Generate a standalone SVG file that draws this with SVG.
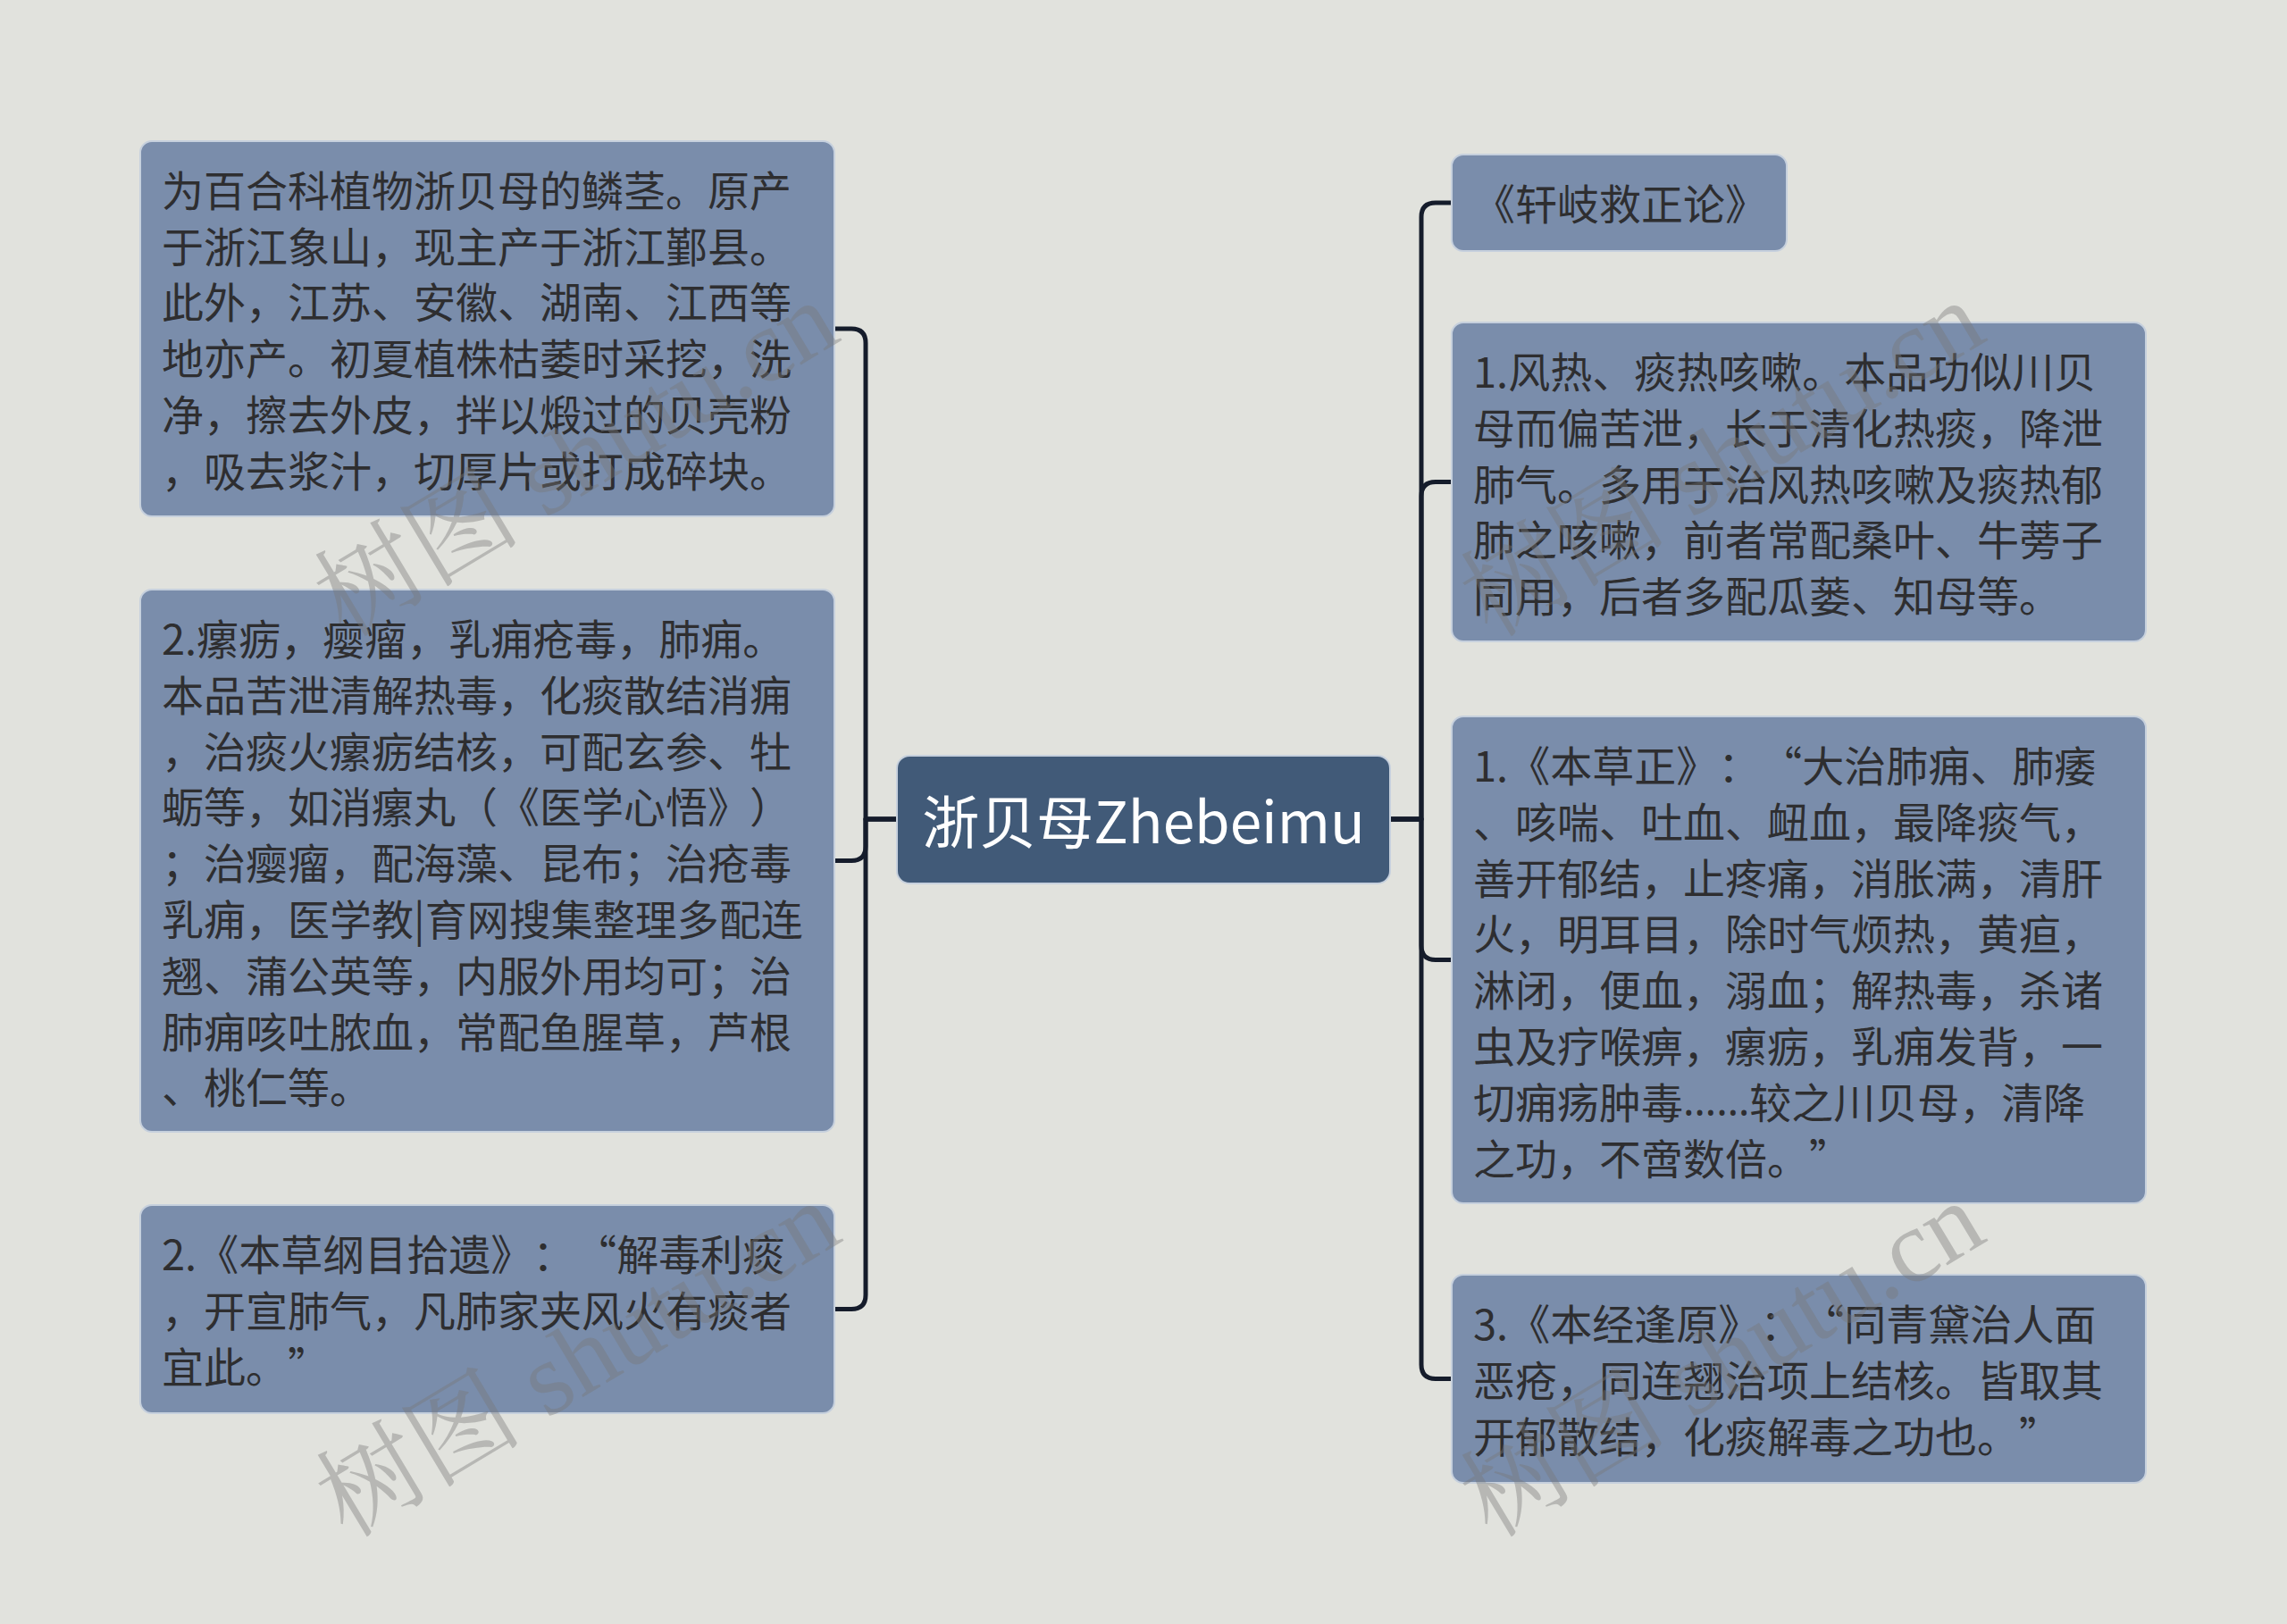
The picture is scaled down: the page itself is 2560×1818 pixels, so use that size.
<svg xmlns="http://www.w3.org/2000/svg" width="2560" height="1818" viewBox="0 0 2560 1818">
<style>
.bg{fill:#E1E2DD}
.node{fill:#7A8DAB;stroke:#C6D0DD;stroke-width:2}
.root{fill:#415A78;stroke:#C6D0DD;stroke-width:2}
.t{font-family:"Noto Sans CJK SC","Noto Sans",sans-serif;font-size:47px;fill:#2E2E30;dominant-baseline:central;text-spacing-trim:space-all}
.q{font-feature-settings:"fwid"}
.el{font-family:"Noto Sans",sans-serif}
.rt{font-family:"Noto Sans CJK SC","Noto Sans",sans-serif;font-size:64px;fill:#FFFFFF;dominant-baseline:central;text-anchor:middle}
.conn path{fill:none;stroke:#151C2B;stroke-width:5;stroke-linejoin:round;stroke-linecap:round}
.wm{font-family:"Liberation Serif","Noto Serif CJK SC","Noto Sans CJK SC",serif;font-size:116px;fill:#777777;fill-opacity:0.4;text-anchor:middle;dominant-baseline:central}
</style>
<rect class="bg" x="0" y="0" width="2560" height="1818"/>

<g id="connectors" class="conn">
<path d="M1004,917 H969 V384 Q969,368 953,368 H934"/>
<path d="M1004,917 H969 V947.5 Q969,963.5 953,963.5 H934"/>
<path d="M1004,917 H969 V1449.5 Q969,1465.5 953,1465.5 H934"/>
<path d="M1556,917 H1591 V243 Q1591,227 1607,227 H1625"/>
<path d="M1556,917 H1591 V555.5 Q1591,539.5 1607,539.5 H1625"/>
<path d="M1556,917 H1591 V1058.5 Q1591,1074.5 1607,1074.5 H1625"/>
<path d="M1556,917 H1591 V1527.5 Q1591,1543.5 1607,1543.5 H1625"/>
</g>

<g id="root">
<rect class="root" x="1004" y="846" width="552" height="143" rx="14"/>
<text class="rt" x="1280" y="916">浙贝母Zhebeimu</text>
</g>

<g id="left1">
<rect class="node" x="157" y="158" width="777" height="420" rx="13"/>
<text class="t" x="181" y="210">为百合科植物浙贝母的鳞茎。原产</text>
<text class="t" x="181" y="273">于浙江象山，现主产于浙江鄞县。</text>
<text class="t" x="181" y="335">此外，江苏、安徽、湖南、江西等</text>
<text class="t" x="181" y="398">地亦产。初夏植株枯萎时采挖，洗</text>
<text class="t" x="181" y="461">净，擦去外皮，拌以煅过的贝壳粉</text>
<text class="t" x="181" y="524">，吸去浆汁，切厚片或打成碎块。</text>
</g>

<g id="left2">
<rect class="node" x="157" y="660" width="777" height="607" rx="13"/>
<text class="t" x="181" y="712">2.瘰疬，瘿瘤，乳痈疮毒，肺痈。</text>
<text class="t" x="181" y="775">本品苦泄清解热毒，化痰散结消痈</text>
<text class="t" x="181" y="838">，治痰火瘰疬结核，可配玄参、牡</text>
<text class="t" x="181" y="900">蛎等，如消瘰丸（《医学心悟》）</text>
<text class="t" x="181" y="963">；治瘿瘤，配海藻、昆布；治疮毒</text>
<text class="t" x="181" y="1026">乳痈，医学教|育网搜集整理多配连</text>
<text class="t" x="181" y="1089">翘、蒲公英等，内服外用均可；治</text>
<text class="t" x="181" y="1152">肺痈咳吐脓血，常配鱼腥草，芦根</text>
<text class="t" x="181" y="1214">、桃仁等。</text>
</g>

<g id="left3">
<rect class="node" x="157" y="1349" width="777" height="233" rx="13"/>
<text class="t" x="181" y="1401">2.《本草纲目拾遗》：<tspan class="q">“</tspan>解毒利痰</text>
<text class="t" x="181" y="1464">，开宣肺气，凡肺家夹风火有痰者</text>
<text class="t" x="181" y="1527">宜此。”</text>
</g>

<g id="right1">
<rect class="node" x="1625" y="173" width="375" height="108" rx="13"/>
<text class="t" x="1649" y="225">《轩岐救正论》</text>
</g>

<g id="right2">
<rect class="node" x="1625" y="361" width="777" height="357" rx="13"/>
<text class="t" x="1649" y="413">1.风热、痰热咳嗽。本品功似川贝</text>
<text class="t" x="1649" y="476">母而偏苦泄，长于清化热痰，降泄</text>
<text class="t" x="1649" y="539">肺气。多用于治风热咳嗽及痰热郁</text>
<text class="t" x="1649" y="601">肺之咳嗽，前者常配桑叶、牛蒡子</text>
<text class="t" x="1649" y="664">同用，后者多配瓜蒌、知母等。</text>
</g>

<g id="right3">
<rect class="node" x="1625" y="802" width="777" height="545" rx="13"/>
<text class="t" x="1649" y="854">1.《本草正》：<tspan class="q">“</tspan>大治肺痈、肺痿</text>
<text class="t" x="1649" y="917">、咳喘、吐血、衄血，最降痰气，</text>
<text class="t" x="1649" y="980">善开郁结，止疼痛，消胀满，清肝</text>
<text class="t" x="1649" y="1042">火，明耳目，除时气烦热，黄疸，</text>
<text class="t" x="1649" y="1105">淋闭，便血，溺血；解热毒，杀诸</text>
<text class="t" x="1649" y="1168">虫及疗喉痹，瘰疬，乳痈发背，一</text>
<text class="t" x="1649" y="1231">切痈疡肿毒<tspan class="el">……</tspan>较之川贝母，清降</text>
<text class="t" x="1649" y="1294">之功，不啻数倍。”</text>
</g>

<g id="right4">
<rect class="node" x="1625" y="1427" width="777" height="233" rx="13"/>
<text class="t" x="1649" y="1479">3.《本经逢原》：<tspan class="q">“</tspan>同青黛治人面</text>
<text class="t" x="1649" y="1542">恶疮，同连翘治项上结核。皆取其</text>
<text class="t" x="1649" y="1605">开郁散结，化痰解毒之功也。”</text>
</g>

<g id="watermarks">
<text class="wm" transform="translate(645,514) rotate(-31)">树图 shutu.cn</text>
<text class="wm" transform="translate(647,1522) rotate(-31)">树图 shutu.cn</text>
<text class="wm" transform="translate(1928,514) rotate(-31)">树图 shutu.cn</text>
<text class="wm" transform="translate(1928,1522) rotate(-31)">树图 shutu.cn</text>
</g>
</svg>
